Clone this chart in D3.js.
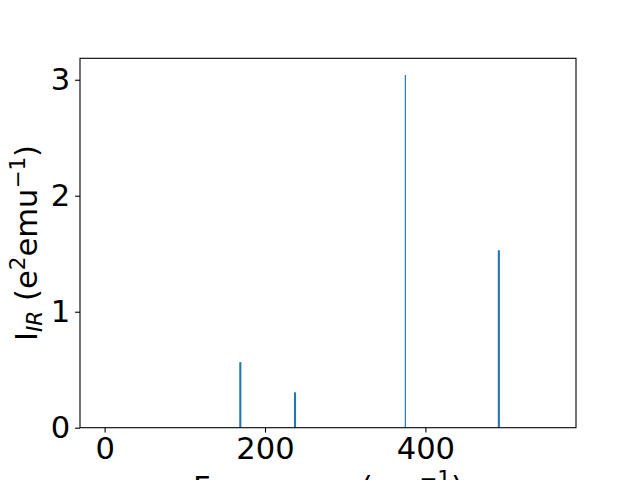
<!DOCTYPE html>
<html><head><meta charset="utf-8">
<script src="https://cdn.jsdelivr.net/npm/d3@7"></script>
<style>body{margin:0;background:#fff}svg{display:block;font-family:"DejaVu Sans",sans-serif}</style>
</head><body><svg id="c" width="640" height="480"></svg>
<script>
const frequencies = [169.2, 237.4, 375.0, 491.6];
const intensities = [0.565, 0.305, 3.04, 1.53];
const xTicks = [0, 200, 400];
const yTicks = [0, 1, 2, 3];
const xDomain = [-30.7, 587.8];
const yDomain = [0, 3.185];

const svg = d3.select("#c");
const L = 80, R = 576, T = 58.3, B = 427.7;
const x = d3.scaleLinear().domain(xDomain).range([L, R]);
const y = d3.scaleLinear().domain(yDomain).range([B, T]);
const color = "#1f77b4";

svg.append("g").selectAll("line").data(frequencies).join("line")
  .attr("x1", d => x(d)).attr("x2", d => x(d))
  .attr("y1", y(0)).attr("y2", (d, i) => y(intensities[i]))
  .attr("stroke", color).attr("stroke-width", (d, i) => i === 2 ? 1.2 : 2.1);

const xa = svg.append("g").attr("transform", `translate(0,${B})`)
  .call(d3.axisBottom(x).tickValues(xTicks).tickFormat(d3.format("d")).tickSizeOuter(0).tickSize(4.9).tickPadding(4.9));
const ya = svg.append("g").attr("transform", `translate(${L},0)`)
  .call(d3.axisLeft(y).tickValues(yTicks).tickFormat(d3.format("d")).tickSizeOuter(0).tickSize(4.9).tickPadding(4.9));
[xa, ya].forEach(a => {
  a.selectAll("text").attr("font-size", 30.6).attr("font-family", "DejaVu Sans").attr("fill", "#000");
  a.selectAll("line").attr("stroke", "#000").attr("stroke-width", 1.1);
  a.select(".domain").remove();
});
svg.append("rect").attr("x", L).attr("y", T).attr("width", R - L).attr("height", B - T)
  .attr("fill", "none").attr("stroke", "#000").attr("stroke-width", 1.1);

// x label
const xl = svg.append("text").attr("x", (L + R) / 2).attr("y", 498).attr("text-anchor", "middle")
  .attr("font-size", 30.6).attr("fill", "#000");
xl.append("tspan").text("Frequency (cm");
xl.append("tspan").attr("dy", -12).attr("font-size", 21.5).text("−1");
xl.append("tspan").attr("dy", 12).text(")");

// y label
const yl = svg.append("text").attr("transform", `translate(37,${(T + B) / 2}) rotate(-90)`)
  .attr("text-anchor", "middle").attr("font-size", 30.6).attr("fill", "#000");
yl.append("tspan").text("I");
yl.append("tspan").attr("dy", 5).attr("font-size", 21.5).attr("font-style", "italic").text("IR");
yl.append("tspan").attr("dy", -5).text(" (e");
yl.append("tspan").attr("dy", -12).attr("font-size", 21.5).text("2");
yl.append("tspan").attr("dy", 12).text("emu");
yl.append("tspan").attr("dy", -12).attr("font-size", 21.5).text("−1");
yl.append("tspan").attr("dy", 12).text(")");
</script></body></html>
